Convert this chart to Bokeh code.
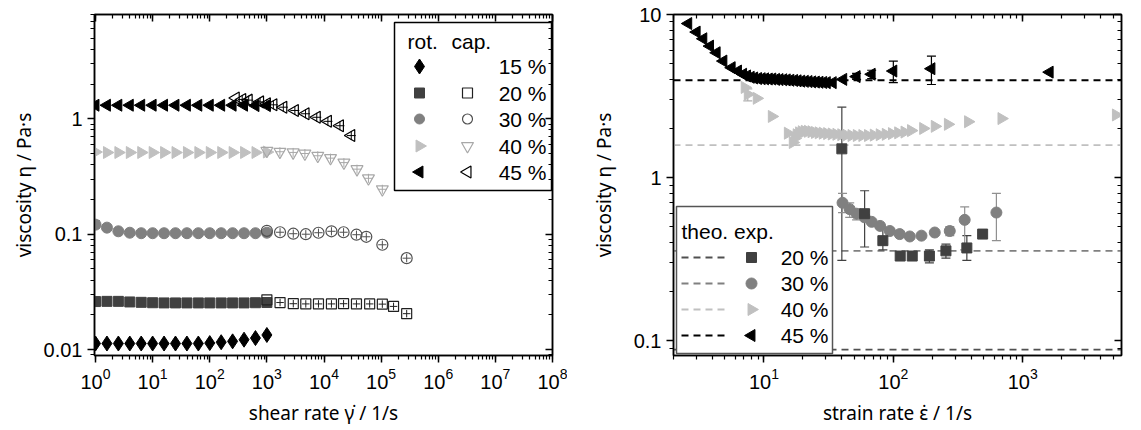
import numpy as np
from bokeh.plotting import figure
from bokeh.layouts import row
from bokeh.models import (Range1d, LinearScale, LogAxis, LogTicker, CustomJSTickFormatter,
                          Whisker, TeeHead, ColumnDataSource, Span)
from bokeh.embed import file_html
from bokeh.resources import INLINE
from bokeh.core.properties import value

FONT = "Liberation Sans"
LABEL_FONT = "Noto Sans"
TICK = "20px"
LABEL = "19px"
LEG = "21px"

# ---------------- left chart data (shear rate, rotational / capillary) ----------------
rot_x = [1, 1.585, 2.512, 3.981, 6.31, 10, 15.85, 25.12, 39.81, 63.1, 100, 158.5, 251.2, 398.1, 631, 1000]
rot15_y = [0.0113, 0.0113, 0.0113, 0.0113, 0.0113, 0.0113, 0.0113, 0.0113, 0.0113, 0.0113,
           0.0114, 0.0116, 0.0118, 0.0122, 0.0126, 0.0134]
rot20_y = [0.0261, 0.0262, 0.0262, 0.0259, 0.0257, 0.0255, 0.0254, 0.0254, 0.0254, 0.0254,
           0.0254, 0.0254, 0.0254, 0.0254, 0.0255, 0.0256]
rot30_y = [0.121, 0.114, 0.106, 0.103, 0.102, 0.102, 0.102, 0.102, 0.102, 0.102,
           0.102, 0.102, 0.102, 0.102, 0.102, 0.103]
rot40_y = [0.515, 0.51, 0.51, 0.51, 0.51, 0.51, 0.51, 0.51, 0.51, 0.51,
           0.51, 0.51, 0.51, 0.51, 0.51, 0.515]
rot45_y = [1.31, 1.31, 1.31, 1.31, 1.31, 1.31, 1.31, 1.31, 1.31, 1.31,
           1.31, 1.31, 1.31, 1.31, 1.3, 1.3]
rot30_err_x = [1]
rot30_err_lo = [0.113]
rot30_err_hi = [0.131]

cap20_x = [1000, 1700, 2900, 4800, 8000, 13500, 22000, 37000, 63000, 105000, 165000, 280000]
cap20_y = [0.027, 0.0256, 0.025, 0.0249, 0.0249, 0.0249, 0.025, 0.0249, 0.0249, 0.0248, 0.0237, 0.0205]
cap30_x = [1000, 1700, 2900, 4800, 8000, 13500, 22000, 37000, 55000, 105000, 280000]
cap30_y = [0.107, 0.104, 0.101, 0.1, 0.103, 0.106, 0.104, 0.099, 0.095, 0.081, 0.062]
cap40_x = [1000, 1690, 2880, 4630, 7780, 13000, 22300, 37800, 60000, 105000]
cap40_y = [0.528, 0.518, 0.511, 0.5, 0.478, 0.456, 0.417, 0.366, 0.305, 0.245]
cap45_x = [285, 370, 480, 760, 1000, 1300, 1940, 3090, 4750, 7470, 11700, 19000, 30000]
cap45_y = [1.51, 1.47, 1.45, 1.4, 1.35, 1.32, 1.26, 1.18, 1.105, 1.03, 0.95, 0.87, 0.715]

left_legend_labels = ["15 %", "20 %", "30 %", "40 %", "45 %"]

# ---------------- right chart data (strain rate, extensional) ----------------
r45_x = [2.6, 3.02, 3.4, 3.83, 4.31, 4.86, 5.63, 6.3, 6.9, 7.4, 7.9, 8.4, 9.0, 9.6, 10.2, 10.9,
         11.6, 12.4, 13.2, 14.1, 15.0, 16.0, 17.1, 18.2, 19.4, 20.7, 22.1, 23.6, 25.2, 26.9,
         28.7, 30.6, 34, 41, 52, 68, 100, 197, 1615]
r45_y = [8.8, 7.8, 7.1, 6.4, 5.83, 5.18, 4.72, 4.5, 4.3, 4.2, 4.12, 4.08, 4.05, 4.04, 4.03, 4.02,
         4.02, 4.0, 3.99, 3.98, 3.97, 3.95, 3.94, 3.92, 3.9, 3.89, 3.88, 3.86, 3.85, 3.84,
         3.83, 3.82, 3.82, 4.0, 4.16, 4.3, 4.5, 4.65, 4.43]
r45_err_x = [52, 68, 100, 197]
r45_err_lo = [4.0, 4.05, 3.82, 3.72]
r45_err_hi = [4.35, 4.55, 5.18, 5.55]

r40_x = [7.1, 7.5, 8.8, 11.5, 15.3, 16.7, 17.3, 17.9, 18.7, 19.6, 20.7, 21.9, 23.3, 24.8, 26.5,
         28.5, 30.8, 33.4, 36.3, 39.6, 43.3, 47.5, 52.2, 57.6, 63.7, 70.6, 78.5, 87.4, 97.5,
         109, 122, 137, 170, 209, 264, 378, 685, 5250]
r40_y = [3.57, 3.24, 3.06, 2.37, 1.87, 1.64, 1.74, 1.83, 1.88, 1.91, 1.92, 1.92, 1.91, 1.89, 1.88,
         1.87, 1.86, 1.85, 1.84, 1.83, 1.82, 1.81, 1.81, 1.81, 1.81, 1.82, 1.83, 1.84, 1.86,
         1.88, 1.9, 1.94, 2.0, 2.06, 2.12, 2.2, 2.3, 2.42]
r40_err_x = [7.5]
r40_err_lo = [2.95]
r40_err_hi = [3.5]

r30_x = [40.5, 46, 52, 60, 68, 79, 94, 112, 134, 165, 209, 273, 356, 626]
r30_y = [0.7, 0.64, 0.6, 0.57, 0.535, 0.505, 0.47, 0.45, 0.435, 0.44, 0.46, 0.47, 0.55, 0.61]
r30_err_x = [40.5, 46, 52, 273, 356, 626]
r30_err_lo = [0.61, 0.57, 0.55, 0.44, 0.36, 0.41]
r30_err_hi = [0.8, 0.7, 0.64, 0.5, 0.66, 0.8]

r20_x = [40, 60, 83, 113, 140, 190, 255, 370, 490]
r20_y = [1.5, 0.6, 0.41, 0.33, 0.33, 0.33, 0.355, 0.37, 0.45]
r20_err_x = [40, 60, 83, 190, 255, 370]
r20_err_lo = [0.31, 0.375, 0.36, 0.3, 0.32, 0.31]
r20_err_hi = [2.7, 0.83, 0.49, 0.36, 0.39, 0.44]

theo_labels = ["20 %", "30 %", "40 %", "45 %"]
theo_vals = [0.088, 0.355, 1.58, 3.95]

C20, C30, C40, C45 = "#404040", "#808080", "#c0c0c0", "#000000"
THEO_COL = ["#505050", "#808080", "#c0c0c0", "#000000"]


def style_axis(ax, labels=True, inward=False):
    ax.axis_line_width = 1.5
    ax.axis_line_color = "black"
    ax.major_tick_line_width = 1.5
    ax.minor_tick_line_width = 1.2
    ax.major_tick_line_color = "black"
    ax.minor_tick_line_color = "black"
    if inward:
        ax.major_tick_in, ax.major_tick_out = 7, 0
        ax.minor_tick_in, ax.minor_tick_out = 4, 0
    else:
        ax.major_tick_in, ax.major_tick_out = 0, 7
        ax.minor_tick_in, ax.minor_tick_out = 0, 4
    ax.major_label_text_font = FONT
    ax.major_label_text_font_size = TICK
    ax.major_label_text_color = "black"
    ax.axis_label_text_font = LABEL_FONT
    ax.axis_label_text_font_size = LABEL
    ax.axis_label_text_font_style = "normal"
    ax.axis_label_text_color = "black"
    if not labels:
        ax.major_label_text_font_size = "1px"
        ax.major_label_text_alpha = 0.0
        ax.major_label_standoff = 0


def make_fig(xr, yr, fw, fh, bl, br, xlabel, ylabel, ylabel_standoff, xdt):
    p = figure(frame_width=fw, frame_height=fh, x_axis_type="log", y_axis_type="log",
               x_range=Range1d(*xr), y_range=Range1d(*yr), output_backend="svg",
               toolbar_location=None, min_border_left=bl, min_border_right=br,
               min_border_top=14, min_border_bottom=67)
    p.xgrid.visible = False
    p.ygrid.visible = False
    p.outline_line_color = "black"
    p.outline_line_width = 1.5
    p.background_fill_color = "white"
    p.border_fill_color = "white"
    p.xaxis[0].ticker = LogTicker(desired_num_ticks=xdt, num_minor_ticks=10)
    p.yaxis[0].ticker = LogTicker(num_minor_ticks=10)
    p.yaxis[0].formatter = CustomJSTickFormatter(code="return String(Number(tick.toPrecision(6)));")
    style_axis(p.xaxis[0])
    style_axis(p.yaxis[0])
    p.xaxis[0].axis_label = xlabel
    p.yaxis[0].axis_label = ylabel
    p.xaxis[0].axis_label_standoff = 8
    p.yaxis[0].axis_label_standoff = ylabel_standoff
    top = LogAxis(ticker=LogTicker(desired_num_ticks=xdt, num_minor_ticks=10))
    style_axis(top, labels=False, inward=True)
    p.add_layout(top, "above")
    right = LogAxis(ticker=LogTicker(num_minor_ticks=10))
    style_axis(right, labels=False, inward=True)
    p.add_layout(right, "right")
    p.extra_x_ranges = {"px": Range1d(0, fw)}
    p.extra_x_scales = {"px": LinearScale()}
    p.extra_y_ranges = {"px": Range1d(fh, 0)}
    p.extra_y_scales = {"px": LinearScale()}
    return p


def whisker(p, xs, lo, hi, color, w=1.2):
    src = ColumnDataSource(dict(x=xs, lo=lo, hi=hi))
    wk = Whisker(source=src, base="x", lower="lo", upper="hi", dimension="height",
                 line_color=color, line_width=w,
                 upper_head=TeeHead(size=9, line_color=color, line_width=w),
                 lower_head=TeeHead(size=9, line_color=color, line_width=w))
    p.add_layout(wk)


def ltext(p, x, y, s, align="left"):
    p.text(x=[x], y=[y], text=[s], x_range_name="px", y_range_name="px",
           text_font=value(FONT), text_font_size=value(LEG), text_color="black",
           text_align=align, text_baseline="middle")


FW, FH = 458, 341
# ======================= LEFT =======================
pl = make_fig((0.96, 1e8), (0.0089, 8), FW, FH, 94, 15,
              "shear rate \u03b3\u0307 / 1/s", "viscosity \u03b7 / Pa\u00b7s", 4, 10)

whisker(pl, rot30_err_x, rot30_err_lo, rot30_err_hi, C30)
pl.scatter(rot_x, rot15_y, marker="diamond", size=15, fill_color="black", line_color="black")
pl.scatter(rot_x, rot20_y, marker="square", size=10, fill_color=C20, line_color=C20)
pl.scatter(rot_x, rot30_y, marker="circle", size=11, fill_color=C30, line_color=C30)
pl.scatter(rot_x, rot40_y, marker="triangle", angle=-np.pi / 2, size=12, fill_color=C40, line_color=C40)
pl.scatter(rot_x, rot45_y, marker="triangle", angle=np.pi / 2, size=12, fill_color="black", line_color="black")

cap_specs = [
    (cap20_x, cap20_y, "square", 0, 10, "#202020"),
    (cap30_x, cap30_y, "circle", 0, 11, "#505050"),
    (cap40_x, cap40_y, "inverted_triangle", 0, 12, "#a8a8a8"),
    (cap45_x, cap45_y, "triangle", np.pi / 2, 12, "#000000"),
]
for xs, ys, mk, ang, sz, col in cap_specs:
    pl.scatter(xs, ys, marker=mk, angle=ang, size=sz, fill_color="white", fill_alpha=0.0,
               line_color=col, line_width=1.2)
    pl.scatter(xs[1:], ys[1:], marker="cross", size=sz * 0.75, line_color=col, line_width=1.0)

# legend (left)
pl.quad(left=300, right=457, top=8, bottom=176, x_range_name="px", y_range_name="px",
        fill_color="white", line_color="black", line_width=1.5)
ltext(pl, 313, 27, "rot.")
ltext(pl, 357, 27, "cap.")
rows_y = [52, 78.5, 104.5, 131.5, 157.5]
rot_leg = [("diamond", 0, 15, "black"), ("square", 0, 10, C20), ("circle", 0, 10, C30),
           ("triangle", -np.pi / 2, 12, C40), ("triangle", np.pi / 2, 12, "black")]
cap_leg = [None, ("square", 0, 10, "#202020"), ("circle", 0, 10, "#505050"),
           ("inverted_triangle", 0, 12, "#a8a8a8"), ("triangle", np.pi / 2, 12, "#000000")]
for i, yy in enumerate(rows_y):
    mk, ang, sz, col = rot_leg[i]
    pl.scatter([325], [yy], marker=mk, angle=ang, size=sz, fill_color=col, line_color=col,
               x_range_name="px", y_range_name="px")
    if cap_leg[i] is not None:
        mk, ang, sz, col = cap_leg[i]
        pl.scatter([373], [yy], marker=mk, angle=ang, size=sz, fill_color="white",
                   line_color=col, line_width=1.2, x_range_name="px", y_range_name="px")
    ltext(pl, 452, yy, left_legend_labels[i], align="right")

# ======================= RIGHT =======================
FW2 = 448
pr = make_fig((2.0, 5800), (0.081, 10), FW2, FH, 106, 6,
              "strain rate \u03b5\u0307 / 1/s", "viscosity \u03b7 / Pa\u00b7s", 14, 6)

for v, col in zip(theo_vals, THEO_COL):
    pr.add_layout(Span(location=v, dimension="width", line_color=col, line_width=1.8,
                       line_dash="7 5", level="underlay"))

whisker(pr, r20_err_x, r20_err_lo, r20_err_hi, C20)
whisker(pr, r30_err_x, r30_err_lo, r30_err_hi, "#909090")
whisker(pr, r40_err_x, r40_err_lo, r40_err_hi, "#b0b0b0")
whisker(pr, r45_err_x, r45_err_lo, r45_err_hi, "black")
pr.scatter(r40_x, r40_y, marker="triangle", angle=-np.pi / 2, size=12, fill_color=C40, line_color=C40)
pr.scatter(r45_x, r45_y, marker="triangle", angle=np.pi / 2, size=12, fill_color="black", line_color="black")
pr.scatter(r30_x, r30_y, marker="circle", size=11, fill_color=C30, line_color=C30)
pr.scatter(r20_x, r20_y, marker="square", size=10, fill_color=C20, line_color=C20)

# legend (right)
pr.quad(left=3, right=159, top=192, bottom=339, x_range_name="px", y_range_name="px",
        fill_color="white", line_color="#555555", line_width=1.5)
ltext(pr, 8, 217, "theo. exp.")
rrows = [243, 269, 295, 321]
r_leg = [("square", 0, 10, C20), ("circle", 0, 11, C30),
         ("triangle", -np.pi / 2, 12, C40), ("triangle", np.pi / 2, 12, "black")]
for i, yy in enumerate(rrows):
    pr.line([8, 56], [yy, yy], x_range_name="px", y_range_name="px",
            line_color=THEO_COL[i], line_width=1.8, line_dash="7 5")
    mk, ang, sz, col = r_leg[i]
    pr.scatter([78], [yy], marker=mk, angle=ang, size=sz, fill_color=col, line_color=col,
               x_range_name="px", y_range_name="px")
    ltext(pr, 155, yy, theo_labels[i], align="right")

layout = row(pl, pr)
open("out.html", "w").write(file_html(layout, INLINE))
